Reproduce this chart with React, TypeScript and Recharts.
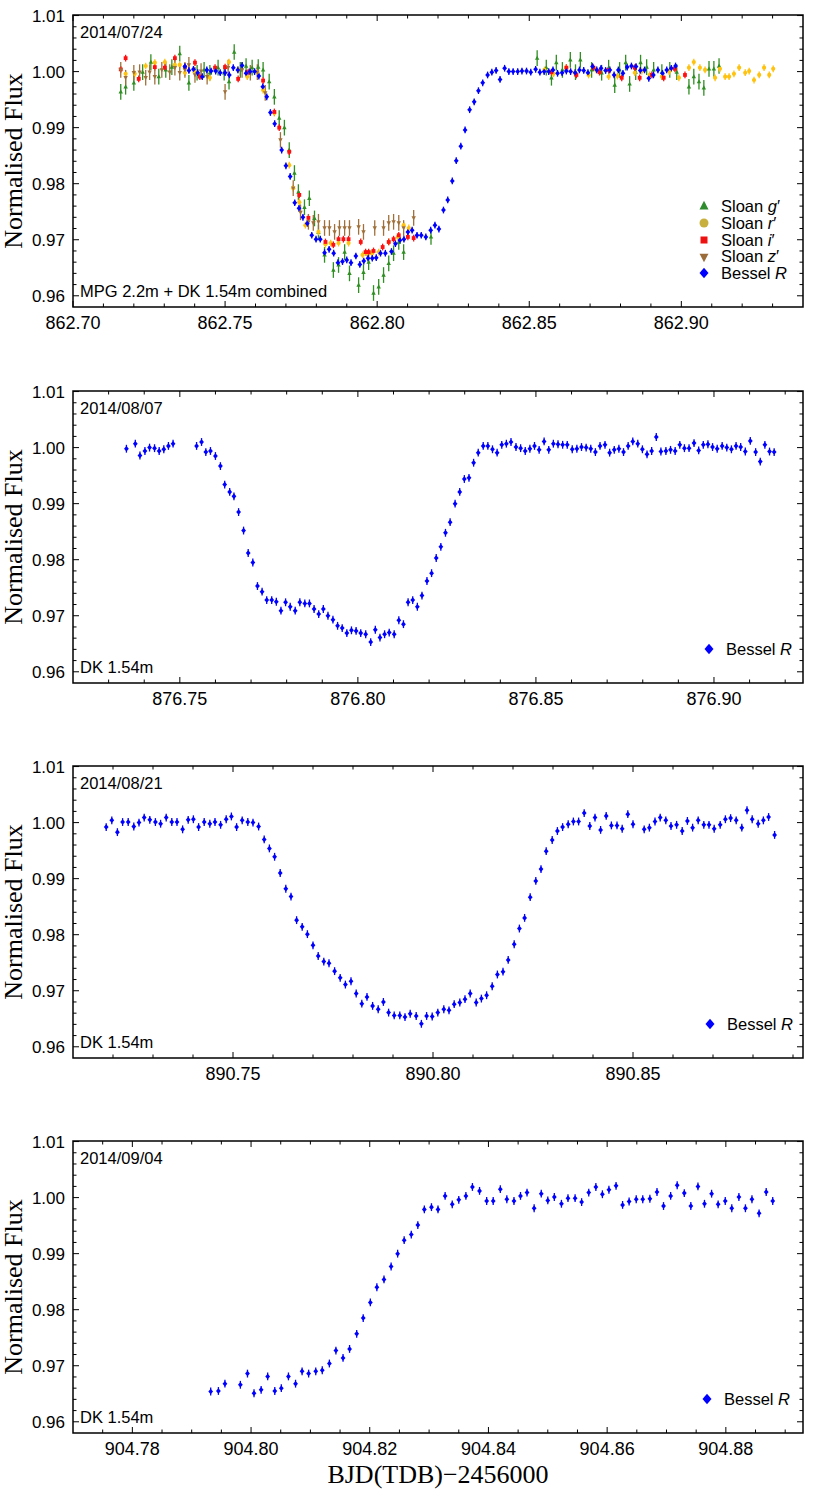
import React from "react";
import { ErrorBar, Label, Legend, ReferenceArea, Scatter, ScatterChart, XAxis, YAxis } from "recharts";

// ---------- 2014/07/24 (MPG 2.2m + DK 1.54m) ----------
const gTime = [
  862.7157, 862.7173, 862.72, 862.7229, 862.7256, 862.7282, 862.7305, 862.7325, 862.7351, 862.7381,
  862.7408, 862.7431, 862.745, 862.7477, 862.7497, 862.7513, 862.753, 862.755, 862.7569, 862.7589,
  862.7609, 862.7625, 862.7645, 862.7662, 862.7678, 862.7695, 862.7711, 862.7728, 862.7741, 862.7761,
  862.7777, 862.7794, 862.7807, 862.7827, 862.7856, 862.7873, 862.7893, 862.7909, 862.7939, 862.7955,
  862.7972, 862.7988, 862.8005, 862.8021, 862.8038, 862.8054, 862.8071, 862.8087, 862.8177,
  862.8526, 862.8556, 862.8573, 862.8589, 862.8609, 862.8635, 862.8652, 862.8668, 862.8705, 862.8738,
  862.8761, 862.8781, 862.8797, 862.8817, 862.883, 862.885, 862.8866, 862.8886, 862.8909, 862.8936,
  862.8962, 862.8985, 862.9025, 862.9041, 862.9058, 862.9074, 862.9091, 862.9107, 862.9124,
];
const gFlux = [
  0.9964, 0.9973, 0.998, 0.9999, 1.0017, 0.9991, 1.0003, 1.0008, 1.0032, 0.998,
  0.9998, 1.0003, 0.9998, 1.0007, 0.9998, 0.9982, 1.0035, 1.0003, 1.001, 1.0007,
  1.0008, 1.0003, 0.9982, 0.9955, 0.9917, 0.99, 0.986, 0.9819, 0.9785, 0.9758,
  0.9774, 0.9738, 0.9713, 0.9673, 0.9646, 0.9655, 0.9678, 0.964, 0.9619, 0.9642,
  0.966, 0.9605, 0.9616, 0.9637, 0.9658, 0.9676, 0.9696, 0.9678, 0.9705,
  1.0024, 1.0007, 0.9989, 1.0016, 1.0003, 1.0021, 0.9999, 1.0021, 1.0003, 0.9998,
  1.0007, 0.9976, 1.0003, 1.0016, 0.9978, 0.9999, 1.0016, 1.0008, 1.0003, 0.9999,
  1.0003, 0.9999, 0.9973, 0.9991, 0.9982, 0.9971, 1.0005, 1.0005, 1.001,
];

const rTime = [
  862.7173, 862.7203, 862.7239, 862.7269, 862.7302, 862.7335, 862.7351, 862.7368, 862.7401, 862.745,
  862.7513, 862.7543, 862.7573, 862.7606, 862.7625, 862.7662, 862.7711, 862.7724, 862.7744, 862.7764,
  862.7807, 862.783, 862.7847, 862.7873, 862.7906, 862.7952, 862.7965, 862.7982, 862.8005, 862.8038,
  862.8068, 862.8087, 862.8104,
  862.855, 862.858, 862.8622, 862.8649, 862.8695, 862.872, 862.8761, 862.879, 862.8847, 862.887,
  862.8896, 862.8936, 862.896, 862.8992, 862.9025, 862.9041, 862.9061, 862.9078, 862.9111, 862.9127,
  862.9144, 862.9157, 862.9173, 862.919, 862.921, 862.9223, 862.9239, 862.9256, 862.9272, 862.9289,
  862.9302,
];
const rFlux = [
  0.9996, 0.9996, 1.001, 1.0016, 1.0017, 1.0012, 1.0012, 0.9998, 0.9999, 0.9989,
  1.0017, 1.0003, 0.9991, 0.9999, 0.9967, 0.9926, 0.9833, 0.9792, 0.9767, 0.9726,
  0.9714, 0.9692, 0.9694, 0.9694, 0.9694, 0.9673, 0.9676, 0.9676, 0.9678, 0.9696,
  0.9705, 0.9726, 0.9721,
  1.0003, 0.9996, 1.0007, 0.9998, 0.9994, 1.0003, 0.9991, 0.9992, 0.9998, 1.0001,
  0.9994, 0.9991, 1.0, 0.9989, 1.0007, 1.0017, 1.0007, 1.0003, 0.9989, 1.0005,
  0.9991, 0.9991, 0.9996, 1.0007, 0.9998, 1.0001, 0.9985, 0.9994, 1.0007, 0.9994,
  1.0005,
];

const iTime = [
  862.7157, 862.7173, 862.7216, 862.7269, 862.7302, 862.7335, 862.7368, 862.7401, 862.7417, 862.7467,
  862.75, 862.7543, 862.7576, 862.7625, 862.7662, 862.7678, 862.7711, 862.7744, 862.7774, 862.783,
  862.7856, 862.7873, 862.7889, 862.7906, 862.7946, 862.7962, 862.7972, 862.7988, 862.8018, 862.8038,
  862.8054, 862.8071, 862.8101, 862.812,
  862.8573, 862.8622, 862.8655, 862.8711, 862.8731, 862.8761, 862.8804, 862.8847, 862.8863, 862.8903,
  862.8942, 862.8979, 862.9012,
];
const iFlux = [
  1.0004, 1.0024, 0.9987, 1.0008, 1.0007, 1.0024, 1.0008, 1.0016, 0.9991, 1.0007,
  1.0008, 0.9987, 0.9999, 0.9984, 0.9928, 0.99, 0.9857, 0.978, 0.9739, 0.9696,
  0.9691, 0.9701, 0.9701, 0.9701, 0.9696, 0.9678, 0.9678, 0.968, 0.9687, 0.9696,
  0.9701, 0.9708, 0.9705, 0.9703,
  0.9999, 1.0007, 0.9994, 1.0007, 0.9999, 1.0003, 0.9989, 1.0007, 0.9989, 0.9994,
  0.9989, 1.0005, 0.9994,
];

const zTime = [
  862.7157, 862.7173, 862.72, 862.7219, 862.7239, 862.7252, 862.7269, 862.7292, 862.7318, 862.7335,
  862.7351, 862.7368, 862.7381, 862.7401, 862.7421, 862.7441, 862.75, 862.751, 862.7556, 862.7583,
  862.7606, 862.7632, 862.7682, 862.7724, 862.7748, 862.7774, 862.779, 862.7807, 862.7827, 862.7843,
  862.786, 862.7876, 862.7893, 862.7909, 862.7939, 862.7955, 862.7992, 862.8021, 862.8038, 862.8054,
  862.8071, 862.8087, 862.812,
];
const zFlux = [
  1.0003, 0.9989, 0.9998, 0.9999, 0.9989, 0.9999, 0.9991, 1.0003, 0.9999, 1.0007,
  0.9998, 1.0003, 1.0012, 0.9994, 1.0001, 0.9991, 0.9964, 1.0007, 1.0003, 0.9998,
  0.9999, 0.9962, 0.9878, 0.9792, 0.9749, 0.9732, 0.973, 0.9732, 0.9721, 0.9721,
  0.9714, 0.9721, 0.9721, 0.9721, 0.9723, 0.9714, 0.9721, 0.9721, 0.973, 0.9732,
  0.973, 0.9721, 0.9739,
];

const jul24RTime = [
  862.7368, 862.7381, 862.7396, 862.741, 862.7425, 862.744, 862.7454, 862.7469, 862.7484, 862.75,
  862.7514, 862.7527, 862.7542, 862.7556, 862.7569, 862.7582, 862.7597, 862.7611, 862.7624, 862.7637,
  862.7649, 862.7663, 862.7686, 862.77, 862.7714, 862.7729, 862.7743, 862.7756, 862.777, 862.7785,
  862.7799, 862.7813, 862.7827, 862.7842, 862.7857, 862.7871, 862.7886, 862.79, 862.7914, 862.793,
  862.7943, 862.7956, 862.797, 862.7984, 862.7997, 862.8011, 862.8027, 862.8047, 862.806, 862.8075,
  862.8088, 862.8101, 862.8115, 862.8131, 862.8145, 862.816, 862.8176, 862.819, 862.8203, 862.8218,
  862.8232, 862.8247, 862.826, 862.8275, 862.8289, 862.8304, 862.8319, 862.8333, 862.8347, 862.8363,
  862.8377, 862.8391, 862.8404, 862.8419, 862.8433, 862.8447, 862.8462, 862.8476, 862.8491, 862.8505,
  862.8521, 862.8535, 862.8549, 862.8564, 862.8578, 862.8593, 862.8608, 862.8622, 862.8636, 862.8651,
  862.8665, 862.8679, 862.8693, 862.8708, 862.8722, 862.8736, 862.8751, 862.8765, 862.8779, 862.8793,
  862.8808, 862.8822, 862.8836, 862.8851, 862.8865, 862.8879, 862.8893, 862.8908, 862.8923, 862.8938,
  862.8952, 862.8967, 862.8981,
];
const jul24RFlux = [
  1.0009, 1.0002, 1.0004, 0.9998, 0.9991, 1.0003, 1.0001, 1.0001, 0.9998, 0.9998,
  0.9994, 1.0007, 1.0003, 1.0011, 0.9997, 1.0, 1.0, 0.9992, 0.9973, 0.9955,
  0.9927, 0.9907, 0.986, 0.9832, 0.9813, 0.9766, 0.9756, 0.974, 0.9729, 0.9708,
  0.9701, 0.9701, 0.9677, 0.9683, 0.9676, 0.9659, 0.9661, 0.9664, 0.9659, 0.9671,
  0.9656, 0.9662, 0.9667, 0.9667, 0.9668, 0.9676, 0.9676, 0.9679, 0.9693, 0.9699,
  0.9701, 0.9714, 0.9717, 0.9708, 0.9708, 0.9705, 0.9717, 0.9726, 0.9719, 0.9753,
  0.9771, 0.9805, 0.9841, 0.9867, 0.9896, 0.9932, 0.9946, 0.9966, 0.998, 0.9994,
  0.9999, 1.0002, 0.9986, 1.0006, 1.0, 1.0, 1.0, 1.0001, 1.0001, 0.9999,
  1.0004, 0.9999, 1.0, 1.0, 1.0003, 0.9997, 0.9998, 1.0001, 1.0, 0.9998,
  1.0003, 1.0002, 0.9998, 1.0009, 1.0003, 1.0006, 1.0002, 1.0003, 0.9994, 1.0003,
  0.9997, 1.0008, 1.001, 1.0009, 1.0002, 1.0003, 0.9988, 0.9994, 1.0003, 0.9997,
  1.0003, 1.0006, 1.001,
];

// ---------- 2014/08/07 (DK 1.54m) ----------
const aug07Time = [
  876.735, 876.7375, 876.7388, 876.7402, 876.7415, 876.7429, 876.7442, 876.7455, 876.7468, 876.7481,
  876.7547, 876.7561, 876.7573, 876.7586, 876.76, 876.7614, 876.7626, 876.764, 876.7652, 876.7665,
  876.7679, 876.7692, 876.7705, 876.7718, 876.7731, 876.7744, 876.7758, 876.7771, 876.7784, 876.7797,
  876.781, 876.7824, 876.7837, 876.7851, 876.7864, 876.7877, 876.789, 876.7903, 876.7916, 876.793,
  876.7943, 876.7956, 876.7969, 876.7982, 876.7995, 876.8008, 876.8022, 876.8036, 876.8049, 876.8062,
  876.8075, 876.8088, 876.8102, 876.8115, 876.8128, 876.8141, 876.8154, 876.8167, 876.818, 876.8194,
  876.8207, 876.822, 876.8233, 876.8246, 876.8259, 876.8273, 876.8286, 876.8299, 876.8312, 876.8325,
  876.8338, 876.8352, 876.8365, 876.8378, 876.8391, 876.8404, 876.8417, 876.843, 876.8444, 876.8457,
  876.847, 876.8483, 876.8496, 876.8509, 876.8523, 876.8536, 876.8549, 876.8562, 876.8575, 876.8588,
  876.8602, 876.8615, 876.8628, 876.8641, 876.8654, 876.8667, 876.868, 876.8694, 876.8707, 876.872,
  876.8733, 876.8746, 876.8759, 876.8772, 876.8786, 876.8799, 876.8812, 876.8825, 876.8838, 876.8851,
  876.8865, 876.8878, 876.8891, 876.8904, 876.8917, 876.893, 876.8944, 876.8957, 876.897, 876.8983,
  876.8996, 876.9009, 876.9023, 876.9036, 876.9049, 876.9062, 876.9075, 876.9088, 876.9102, 876.9117,
  876.913, 876.9143, 876.9156, 876.9169,
];
const aug07Flux = [
  0.9998, 1.0007, 0.9986, 0.9994, 1.0, 0.9999, 0.9994, 0.9997, 1.0003, 1.0007,
  1.0003, 1.001, 0.9992, 0.9994, 0.9985, 0.9967, 0.9934, 0.9921, 0.9913, 0.9885,
  0.9852, 0.9812, 0.9795, 0.9753, 0.9743, 0.9728, 0.9728, 0.9725, 0.9709, 0.9724,
  0.9716, 0.9709, 0.9724, 0.9722, 0.9722, 0.9712, 0.9703, 0.9712, 0.97, 0.9693,
  0.9682, 0.9678, 0.9669, 0.9674, 0.9673, 0.9669, 0.9667, 0.9653, 0.9675, 0.9661,
  0.9667, 0.967, 0.9667, 0.9692, 0.9685, 0.9724, 0.9728, 0.9716, 0.9736, 0.9762,
  0.9776, 0.9803, 0.9823, 0.9848, 0.9867, 0.99, 0.9921, 0.9944, 0.9946, 0.9973,
  0.9991, 1.0003, 1.0003, 0.9997, 0.9991, 1.0005, 1.0007, 1.001, 1.0001, 0.9999,
  0.9994, 0.9998, 1.0003, 0.9996, 1.0011, 0.9996, 1.0007, 1.0006, 1.0005, 1.0005,
  0.9997, 0.9998, 1.0001, 1.0, 0.9998, 0.9992, 1.0003, 1.0005, 0.9991, 0.9996,
  0.9998, 0.9992, 1.0003, 1.0011, 1.0007, 0.9997, 0.9988, 0.9994, 1.0019, 0.9993,
  0.9994, 0.9996, 0.9994, 1.0005, 0.9999, 0.9999, 1.0008, 0.9995, 1.0005, 1.0006,
  1.0001, 0.9998, 1.0003, 1.0, 0.9997, 1.0003, 1.0001, 0.9993, 1.0012, 0.9992,
  0.9975, 1.0005, 0.9993, 0.9992,
];

// ---------- 2014/08/21 (DK 1.54m) ----------
const aug21Time = [
  890.7183, 890.7197, 890.7211, 890.7224, 890.7238, 890.7252, 890.7265, 890.7278, 890.7292, 890.7306,
  890.7319, 890.7333, 890.7347, 890.736, 890.7374, 890.7388, 890.7401, 890.7414, 890.7428, 890.7442,
  890.7455, 890.7469, 890.7483, 890.7496, 890.7509, 890.7523, 890.7537, 890.755, 890.7564, 890.7578,
  890.7591, 890.7604, 890.7618, 890.7632, 890.7645, 890.7659, 890.7673, 890.7686, 890.77, 890.7713,
  890.7727, 890.774, 890.7754, 890.7768, 890.7781, 890.7795, 890.7808, 890.7822, 890.7835, 890.7849,
  890.7863, 890.7876, 890.7889, 890.7903, 890.7917, 890.793, 890.7943, 890.7958, 890.7971, 890.7984,
  890.7998, 890.8012, 890.8027, 890.804, 890.8053, 890.8067, 890.808, 890.8093, 890.8108, 890.8121,
  890.8134, 890.8148, 890.8161, 890.8175, 890.8188, 890.8203, 890.8216, 890.8229, 890.8243, 890.8257,
  890.827, 890.8283, 890.8298, 890.8311, 890.8324, 890.8338, 890.8351, 890.8364, 890.8378, 890.8392,
  890.8405, 890.8419, 890.8433, 890.8446, 890.846, 890.8473, 890.8487, 890.85, 890.8528, 890.8541,
  890.8555, 890.8568, 890.8582, 890.8595, 890.8609, 890.8623, 890.8636, 890.8649, 890.8663, 890.8677,
  890.869, 890.8703, 890.8718, 890.8731, 890.8744, 890.8758, 890.8772, 890.8785, 890.8798, 890.8813,
  890.8826, 890.8839, 890.8854,
];
const aug21Flux = [
  0.9992, 1.0004, 0.9983, 1.0001, 1.0001, 0.9993, 1.0, 1.0009, 1.0005, 1.0001,
  0.9998, 1.0009, 1.0001, 1.0001, 0.9988, 1.0005, 1.0006, 0.9992, 1.0001, 0.9998,
  1.0001, 0.9996, 1.0006, 1.0011, 0.9992, 1.0004, 1.0001, 1.0, 0.9993, 0.997,
  0.9954, 0.9939, 0.991, 0.9882, 0.9868, 0.9826, 0.9814, 0.9801, 0.9781, 0.9762,
  0.9752, 0.9749, 0.9735, 0.9723, 0.9711, 0.9717, 0.9695, 0.9677, 0.9689, 0.9673,
  0.9667, 0.968, 0.9661, 0.9656, 0.9656, 0.9653, 0.9659, 0.9655, 0.9641, 0.9655,
  0.9654, 0.9661, 0.9667, 0.9665, 0.9676, 0.9679, 0.9685, 0.9695, 0.9679, 0.9686,
  0.9692, 0.9708, 0.9729, 0.9734, 0.9755, 0.9783, 0.9811, 0.983, 0.9867, 0.9896,
  0.9917, 0.9949, 0.9969, 0.9985, 0.9992, 0.9997, 1.0002, 1.0002, 1.0017, 0.9994,
  1.0009, 0.9987, 1.0012, 0.9995, 0.9995, 0.9989, 1.0015, 0.9997, 0.9988, 0.9991,
  1.0002, 1.0009, 1.0004, 0.9994, 0.9996, 0.9985, 1.0003, 0.9991, 1.0004, 0.9996,
  0.9996, 0.9989, 0.9996, 1.0006, 1.0008, 1.0004, 0.9991, 1.0022, 1.0006, 0.9998,
  1.0004, 1.001, 0.9978,
];

// ---------- 2014/09/04 (DK 1.54m) ----------
const sep04Time = [
  904.7932, 904.7945, 904.7956, 904.7982, 904.7994, 904.8005, 904.8017, 904.8028, 904.804, 904.8051,
  904.8063, 904.8075, 904.8086, 904.8097, 904.8109, 904.812, 904.8132, 904.8143, 904.8155, 904.8166,
  904.8178, 904.8189, 904.8201, 904.8212, 904.8224, 904.8236, 904.8247, 904.8258, 904.827, 904.8281,
  904.8292, 904.8304, 904.8315, 904.8327, 904.8339, 904.835, 904.8362, 904.8373, 904.8385, 904.8397,
  904.8408, 904.842, 904.8431, 904.8443, 904.8454, 904.8465, 904.8477, 904.8489, 904.85, 904.8511,
  904.8523, 904.8534, 904.8546, 904.8557, 904.8569, 904.8581, 904.8592, 904.8603, 904.8615, 904.8626,
  904.8637, 904.8649, 904.866, 904.8672, 904.8684, 904.8695, 904.8707, 904.8718, 904.873, 904.8741,
  904.8753, 904.8764, 904.8776, 904.8787, 904.8799, 904.881, 904.8822, 904.8833, 904.8844, 904.8856,
  904.8868, 904.8879,
];
const sep04Flux = [
  0.9654, 0.9655, 0.9668, 0.9666, 0.9686, 0.9651, 0.9657, 0.9681, 0.9655, 0.966,
  0.9681, 0.9668, 0.969, 0.9686, 0.969, 0.9692, 0.9704, 0.9727, 0.9714, 0.973,
  0.9757, 0.9785, 0.9813, 0.984, 0.9854, 0.9877, 0.99, 0.9924, 0.9934, 0.9951,
  0.9979, 0.9983, 0.9979, 1.0003, 0.9988, 0.9996, 1.0003, 1.0019, 1.0012, 0.9994,
  0.9994, 1.0015, 0.9997, 0.9994, 1.0003, 1.0009, 0.9981, 1.0007, 0.9995, 1.0001,
  0.9989, 0.9999, 0.9999, 0.9992, 1.0009, 1.0019, 1.0006, 1.0014, 1.0021, 0.9987,
  0.9993, 0.9997, 0.9997, 0.9998, 1.001, 0.9985, 1.0003, 1.0022, 1.0008, 0.9985,
  1.002, 0.9989, 1.0007, 0.9988, 0.9994, 0.9981, 1.0001, 0.9981, 0.9997, 0.9972,
  1.001, 0.9994,
];

// photometric uncertainties (half-length of the error bars)
const ERR_G = 0.0014;
const ERR_R = 0.0006;
const ERR_I = 0.0006;
const ERR_Z = 0.0014;
const ERR_BESSEL_MPG = 0.0006;
const ERR_BESSEL_DK = 0.0007;

// axis ticks
const yMajor = [0.96, 0.97, 0.98, 0.99, 1.0, 1.01];
const yMinor = [
  0.962, 0.964, 0.966, 0.968, 0.972, 0.974, 0.976, 0.978, 0.982, 0.984,
  0.986, 0.988, 0.992, 0.994, 0.996, 0.998, 1.002, 1.004, 1.006, 1.008,
];
const jul24Major = [862.7, 862.75, 862.8, 862.85, 862.9];
const jul24Minor = [
  862.71, 862.72, 862.73, 862.74, 862.76, 862.77, 862.78, 862.79, 862.81, 862.82,
  862.83, 862.84, 862.86, 862.87, 862.88, 862.89, 862.91, 862.92, 862.93,
];
const aug07Major = [876.75, 876.8, 876.85, 876.9];
const aug07Minor = [
  876.73, 876.74, 876.76, 876.77, 876.78, 876.79, 876.81, 876.82, 876.83, 876.84,
  876.86, 876.87, 876.88, 876.89, 876.91, 876.92,
];
const aug21Major = [890.75, 890.8, 890.85];
const aug21Minor = [
  890.72, 890.73, 890.74, 890.76, 890.77, 890.78, 890.79, 890.81, 890.82, 890.83,
  890.84, 890.86, 890.87, 890.88, 890.89,
];
const sep04Major = [904.78, 904.8, 904.82, 904.84, 904.86, 904.88];
const sep04Minor = [
  904.775, 904.785, 904.79, 904.795, 904.805, 904.81, 904.815, 904.825, 904.83, 904.835,
  904.845, 904.85, 904.855, 904.865, 904.87, 904.875, 904.885, 904.89,
];

const Y_DOMAIN: [number, number] = [0.958, 1.0101];
const PLOT = { left: 73, right: 803, top: 15, bottom: 307 };
const SANS = "'Liberation Sans', Arial, Helvetica, sans-serif";
const SERIF = "'Liberation Serif', 'Times New Roman', Times, serif";

type Kind = "up" | "down" | "circle" | "square" | "diamond";
type Row = { t: number; flux: number; err: number };
type Series = {
  key: string;
  base: string;
  band: string;
  suffix: string;
  rows: Row[];
  color: string;
  legendColor: string;
  kind: Kind;
  size: number;
};

const toRows = (t: number[], f: number[], err: number): Row[] =>
  t.map((x, i) => ({ t: x, flux: f[i], err }));

function Marker({ kind, cx, cy, s, color }: { kind: Kind; cx: number; cy: number; s: number; color: string }) {
  if (kind === "circle") return <circle cx={cx} cy={cy} r={s} fill={color} />;
  if (kind === "square") return <rect x={cx - s} y={cy - s} width={2 * s} height={2 * s} fill={color} />;
  if (kind === "diamond")
    return <polygon points={`${cx},${cy - s * 1.15} ${cx + s},${cy} ${cx},${cy + s * 1.15} ${cx - s},${cy}`} fill={color} />;
  if (kind === "up")
    return <polygon points={`${cx},${cy - s * 1.15} ${cx + s},${cy + s * 0.75} ${cx - s},${cy + s * 0.75}`} fill={color} />;
  return <polygon points={`${cx},${cy + s * 1.15} ${cx + s},${cy - s * 0.75} ${cx - s},${cy - s * 0.75}`} fill={color} />;
}

const isIn = (v: number, list: number[]) => list.some((m) => Math.abs(m - v) < 1e-6);

function XTick(props: any) {
  const { x, payload, major } = props;
  const v = payload.value as number;
  const big = isIn(v, major);
  const len = big ? 6 : 3.5;
  return (
    <g>
      <line x1={x} x2={x} y1={PLOT.bottom} y2={PLOT.bottom - len} stroke="#000" strokeWidth={1} />
      <line x1={x} x2={x} y1={PLOT.top} y2={PLOT.top + len} stroke="#000" strokeWidth={1} />
      {big && (
        <text x={x} y={PLOT.bottom + 22} textAnchor="middle" fontSize={18} fontFamily={SANS} fill="#000">
          {v.toFixed(2)}
        </text>
      )}
    </g>
  );
}

function YTick(props: any) {
  const { y, payload } = props;
  const v = payload.value as number;
  const big = isIn(v, yMajor);
  const len = big ? 6 : 3.5;
  return (
    <g>
      <line x1={PLOT.left} x2={PLOT.left + len} y1={y} y2={y} stroke="#000" strokeWidth={1} />
      <line x1={PLOT.right - len} x2={PLOT.right} y1={y} y2={y} stroke="#000" strokeWidth={1} />
      {big && (
        <text x={65} y={y + 6} textAnchor="end" fontSize={17} fontFamily={SANS} fill="#000">
          {v.toFixed(2)}
        </text>
      )}
    </g>
  );
}

function LegendBox({ items }: { items: Series[] }) {
  return (
    <div style={{ fontFamily: SANS, fontSize: 16.5, color: "#000" }}>
      {items.map((s) => (
        <div key={s.key} style={{ display: "flex", alignItems: "center", height: 16.7, whiteSpace: "nowrap" }}>
          <svg width={12} height={12} style={{ display: "block" }}>
            <Marker kind={s.kind} cx={6} cy={6} s={s.kind === "square" ? 3.5 : 4.5} color={s.legendColor} />
          </svg>
          <span style={{ marginLeft: 11, lineHeight: "16.7px" }}>
            {s.base}
            <i>{s.band}</i>
            {s.suffix}
          </span>
        </div>
      ))}
    </div>
  );
}

type PanelProps = {
  top: number;
  height: number;
  domain: [number, number];
  major: number[];
  minor: number[];
  series: Series[];
  date: string;
  site: string;
  legendLeft: number;
  xTitle?: boolean;
};

function Panel({ top, height, domain, major, minor, series, date, site, legendLeft, xTitle }: PanelProps) {
  const legendTop = 273.3 + 8.35 - series.length * 16.7;
  return (
    <div style={{ position: "absolute", left: 0, top }}>
      <ScatterChart width={830} height={height} margin={{ top: 15, right: 27, bottom: 0, left: 0 }}>
        <XAxis
          type="number"
          dataKey="t"
          domain={domain}
          allowDataOverflow
          ticks={[...major, ...minor]}
          interval={0}
          tickLine={false}
          axisLine={false}
          height={height - 15 - 292}
          tick={(p: any) => <XTick {...p} major={major} />}
        >
          {xTitle && (
            <Label
              content={() => (
                <text x={(PLOT.left + PLOT.right) / 2} y={PLOT.bottom + 50} textAnchor="middle" fontSize={26} fontFamily={SERIF} fill="#000">
                  BJD(TDB)−2456000
                </text>
              )}
            />
          )}
        </XAxis>
        <YAxis
          type="number"
          dataKey="flux"
          domain={Y_DOMAIN}
          allowDataOverflow
          ticks={[...yMajor, ...yMinor]}
          interval={0}
          tickLine={false}
          axisLine={false}
          width={73}
          tick={(p: any) => <YTick {...p} />}
        >
          <Label
            content={() => {
              const cy = (PLOT.top + PLOT.bottom) / 2;
              return (
                <text x={22} y={cy} transform={`rotate(-90 22 ${cy})`} textAnchor="middle" fontSize={26} fontFamily={SERIF} fill="#000">
                  Normalised Flux
                </text>
              );
            }}
          />
        </YAxis>
        {series.map((s) => (
          <Scatter
            key={s.key}
            name={s.key}
            data={s.rows}
            fill={s.color}
            isAnimationActive={false}
            shape={(p: any) => <Marker kind={s.kind} cx={p.cx} cy={p.cy} s={s.size} color={s.color} />}
          >
            <ErrorBar dataKey="err" direction="y" width={0} stroke={s.color} strokeWidth={1.3} isAnimationActive={false} />
          </Scatter>
        ))}
        <ReferenceArea x1={domain[0]} x2={domain[1]} y1={Y_DOMAIN[0]} y2={Y_DOMAIN[1]} fill="none" fillOpacity={0} stroke="#000" strokeWidth={1.5}>
          <Label
            content={() => (
              <text x={80} y={PLOT.top + 23} fontSize={16.5} fontFamily={SANS} fill="#000">
                {date}
              </text>
            )}
          />
          <Label
            content={() => (
              <text x={80} y={PLOT.bottom - 10} fontSize={16.5} fontFamily={SANS} fill="#000">
                {site}
              </text>
            )}
          />
        </ReferenceArea>
        <Legend
          layout="vertical"
          align="center"
          verticalAlign="middle"
          wrapperStyle={{ left: legendLeft, top: legendTop, width: 120 }}
          content={() => <LegendBox items={series} />}
        />
      </ScatterChart>
    </div>
  );
}

const besselStyle = { base: "Bessel ", band: "R", suffix: "", color: "#0000ff", legendColor: "#0000ff", kind: "diamond" as Kind, size: 2.4 };

const jul24Series: Series[] = [
  { key: "g", base: "Sloan ", band: "g", suffix: "′", rows: toRows(gTime, gFlux, ERR_G), color: "#2f8f22", legendColor: "#2e8b2e", kind: "up", size: 2.2 },
  { key: "r", base: "Sloan ", band: "r", suffix: "′", rows: toRows(rTime, rFlux, ERR_R), color: "#ffc20e", legendColor: "#c8b03e", kind: "circle", size: 2.1 },
  { key: "i", base: "Sloan ", band: "i", suffix: "′", rows: toRows(iTime, iFlux, ERR_I), color: "#ff1010", legendColor: "#ee1111", kind: "square", size: 1.9 },
  { key: "z", base: "Sloan ", band: "z", suffix: "′", rows: toRows(zTime, zFlux, ERR_Z), color: "#a0703a", legendColor: "#9c6b3a", kind: "down", size: 2.2 },
  { key: "R", ...besselStyle, rows: toRows(jul24RTime, jul24RFlux, ERR_BESSEL_MPG) },
];
const aug07Series: Series[] = [{ key: "R", ...besselStyle, rows: toRows(aug07Time, aug07Flux, ERR_BESSEL_DK) }];
const aug21Series: Series[] = [{ key: "R", ...besselStyle, rows: toRows(aug21Time, aug21Flux, ERR_BESSEL_DK) }];
const sep04Series: Series[] = [{ key: "R", ...besselStyle, rows: toRows(sep04Time, sep04Flux, ERR_BESSEL_DK) }];

export default function App() {
  return (
    <div style={{ position: "absolute", left: 0, top: 0, width: 830, height: 1499, background: "#fff" }}>
      <Panel top={0} height={360} domain={[862.7, 862.94]} major={jul24Major} minor={jul24Minor} series={jul24Series}
        date="2014/07/24" site="MPG 2.2m + DK 1.54m combined" legendLeft={698} />
      <Panel top={376} height={360} domain={[876.72, 876.925]} major={aug07Major} minor={aug07Minor} series={aug07Series}
        date="2014/08/07" site="DK 1.54m" legendLeft={703} />
      <Panel top={751} height={360} domain={[890.71, 890.8925]} major={aug21Major} minor={aug21Minor} series={aug21Series}
        date="2014/08/21" site="DK 1.54m" legendLeft={704} />
      <Panel top={1126} height={373} domain={[904.77, 904.893]} major={sep04Major} minor={sep04Minor} series={sep04Series}
        date="2014/09/04" site="DK 1.54m" legendLeft={701} xTitle />
    </div>
  );
}
